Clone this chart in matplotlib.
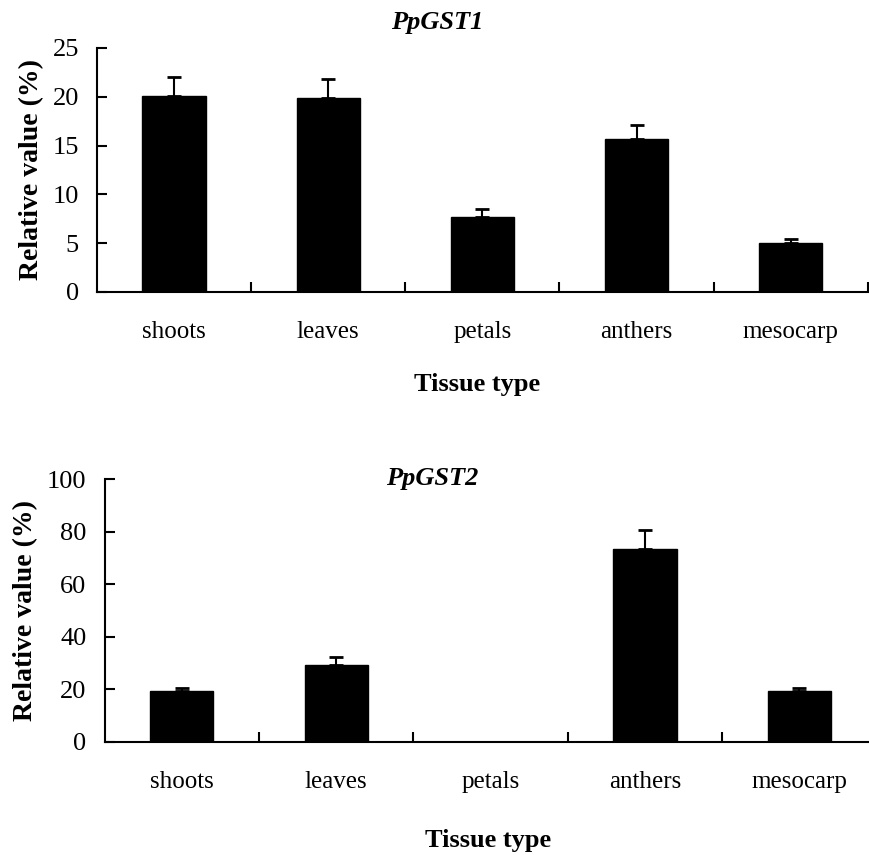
import numpy as np
import matplotlib
matplotlib.use("Agg")
import matplotlib.pyplot as plt

# Data
tissues = ['shoots', 'leaves', 'petals', 'anthers', 'mesocarp']
gst1_vals = [20.05, 19.9, 7.65, 15.7, 5.05]
gst1_err = [1.95, 1.95, 0.82, 1.4, 0.38]
gst2_vals = [19.2, 29.2, 0.0, 73.6, 19.2]
gst2_err = [1.3, 3.2, 0.0, 7.0, 1.4]

plt.rcParams['font.family'] = ['Liberation Serif', 'DejaVu Serif']

fig = plt.figure(figsize=(8.7, 8.55), dpi=100)


def draw_panel(rect, vals, errs, ymax, ystep, title, title_xy, xlab_xy, ylab_x):
    ax = fig.add_axes(rect)
    x = np.arange(len(tissues))
    ax.bar(x, vals, width=0.41, color='black', edgecolor='black')
    e = np.array(errs)
    ax.errorbar(x, vals, yerr=[np.zeros_like(e), e], fmt='none',
                ecolor='black', elinewidth=1.5, capsize=5, capthick=2)
    ax.set_xlim(-0.5, len(tissues) - 0.5)
    ax.set_ylim(0, ymax)
    ax.set_yticks(np.arange(0, ymax + 1, ystep))
    ax.tick_params(axis='y', direction='in', length=7, width=1.5,
                   labelsize=19, pad=13)
    # boundary ticks, labels at centres
    ax.set_xticks(np.arange(0.5, len(tissues)))
    ax.set_xticklabels([])
    ax.set_xticks(x, minor=True)
    ax.set_xticklabels(tissues, minor=True, fontsize=18)
    ax.tick_params(axis='x', which='major', direction='in', length=7, width=1.5)
    ax.tick_params(axis='x', which='minor', length=0, pad=21)
    for s in ['top', 'right']:
        ax.spines[s].set_visible(False)
    for s in ['left', 'bottom']:
        ax.spines[s].set_linewidth(1.5)
    ax.set_ylabel('Relative value (%)', fontsize=20, fontweight='bold')
    ax.yaxis.set_label_coords(ylab_x, 0.5)
    fig.text(title_xy[0], title_xy[1], title, fontsize=19, fontweight='bold',
             style='italic', ha='center', va='center')
    fig.text(xlab_xy[0], xlab_xy[1], 'Tissue type', fontsize=19,
             fontweight='bold', ha='center', va='center')
    return ax


draw_panel([0.1115, 0.6585, 0.886, 0.2854], gst1_vals, gst1_err, 25, 5,
           'PpGST1', (437 / 870, 1 - 22 / 855), (477 / 870, 1 - 384 / 855), -0.068)
draw_panel([0.1202, 0.1325, 0.8874, 0.307], gst2_vals, gst2_err, 100, 20,
           'PpGST2', (432 / 870, 1 - 478 / 855), (488 / 870, 1 - 840 / 855), -0.086)

fig.savefig('out.png', dpi=100)
